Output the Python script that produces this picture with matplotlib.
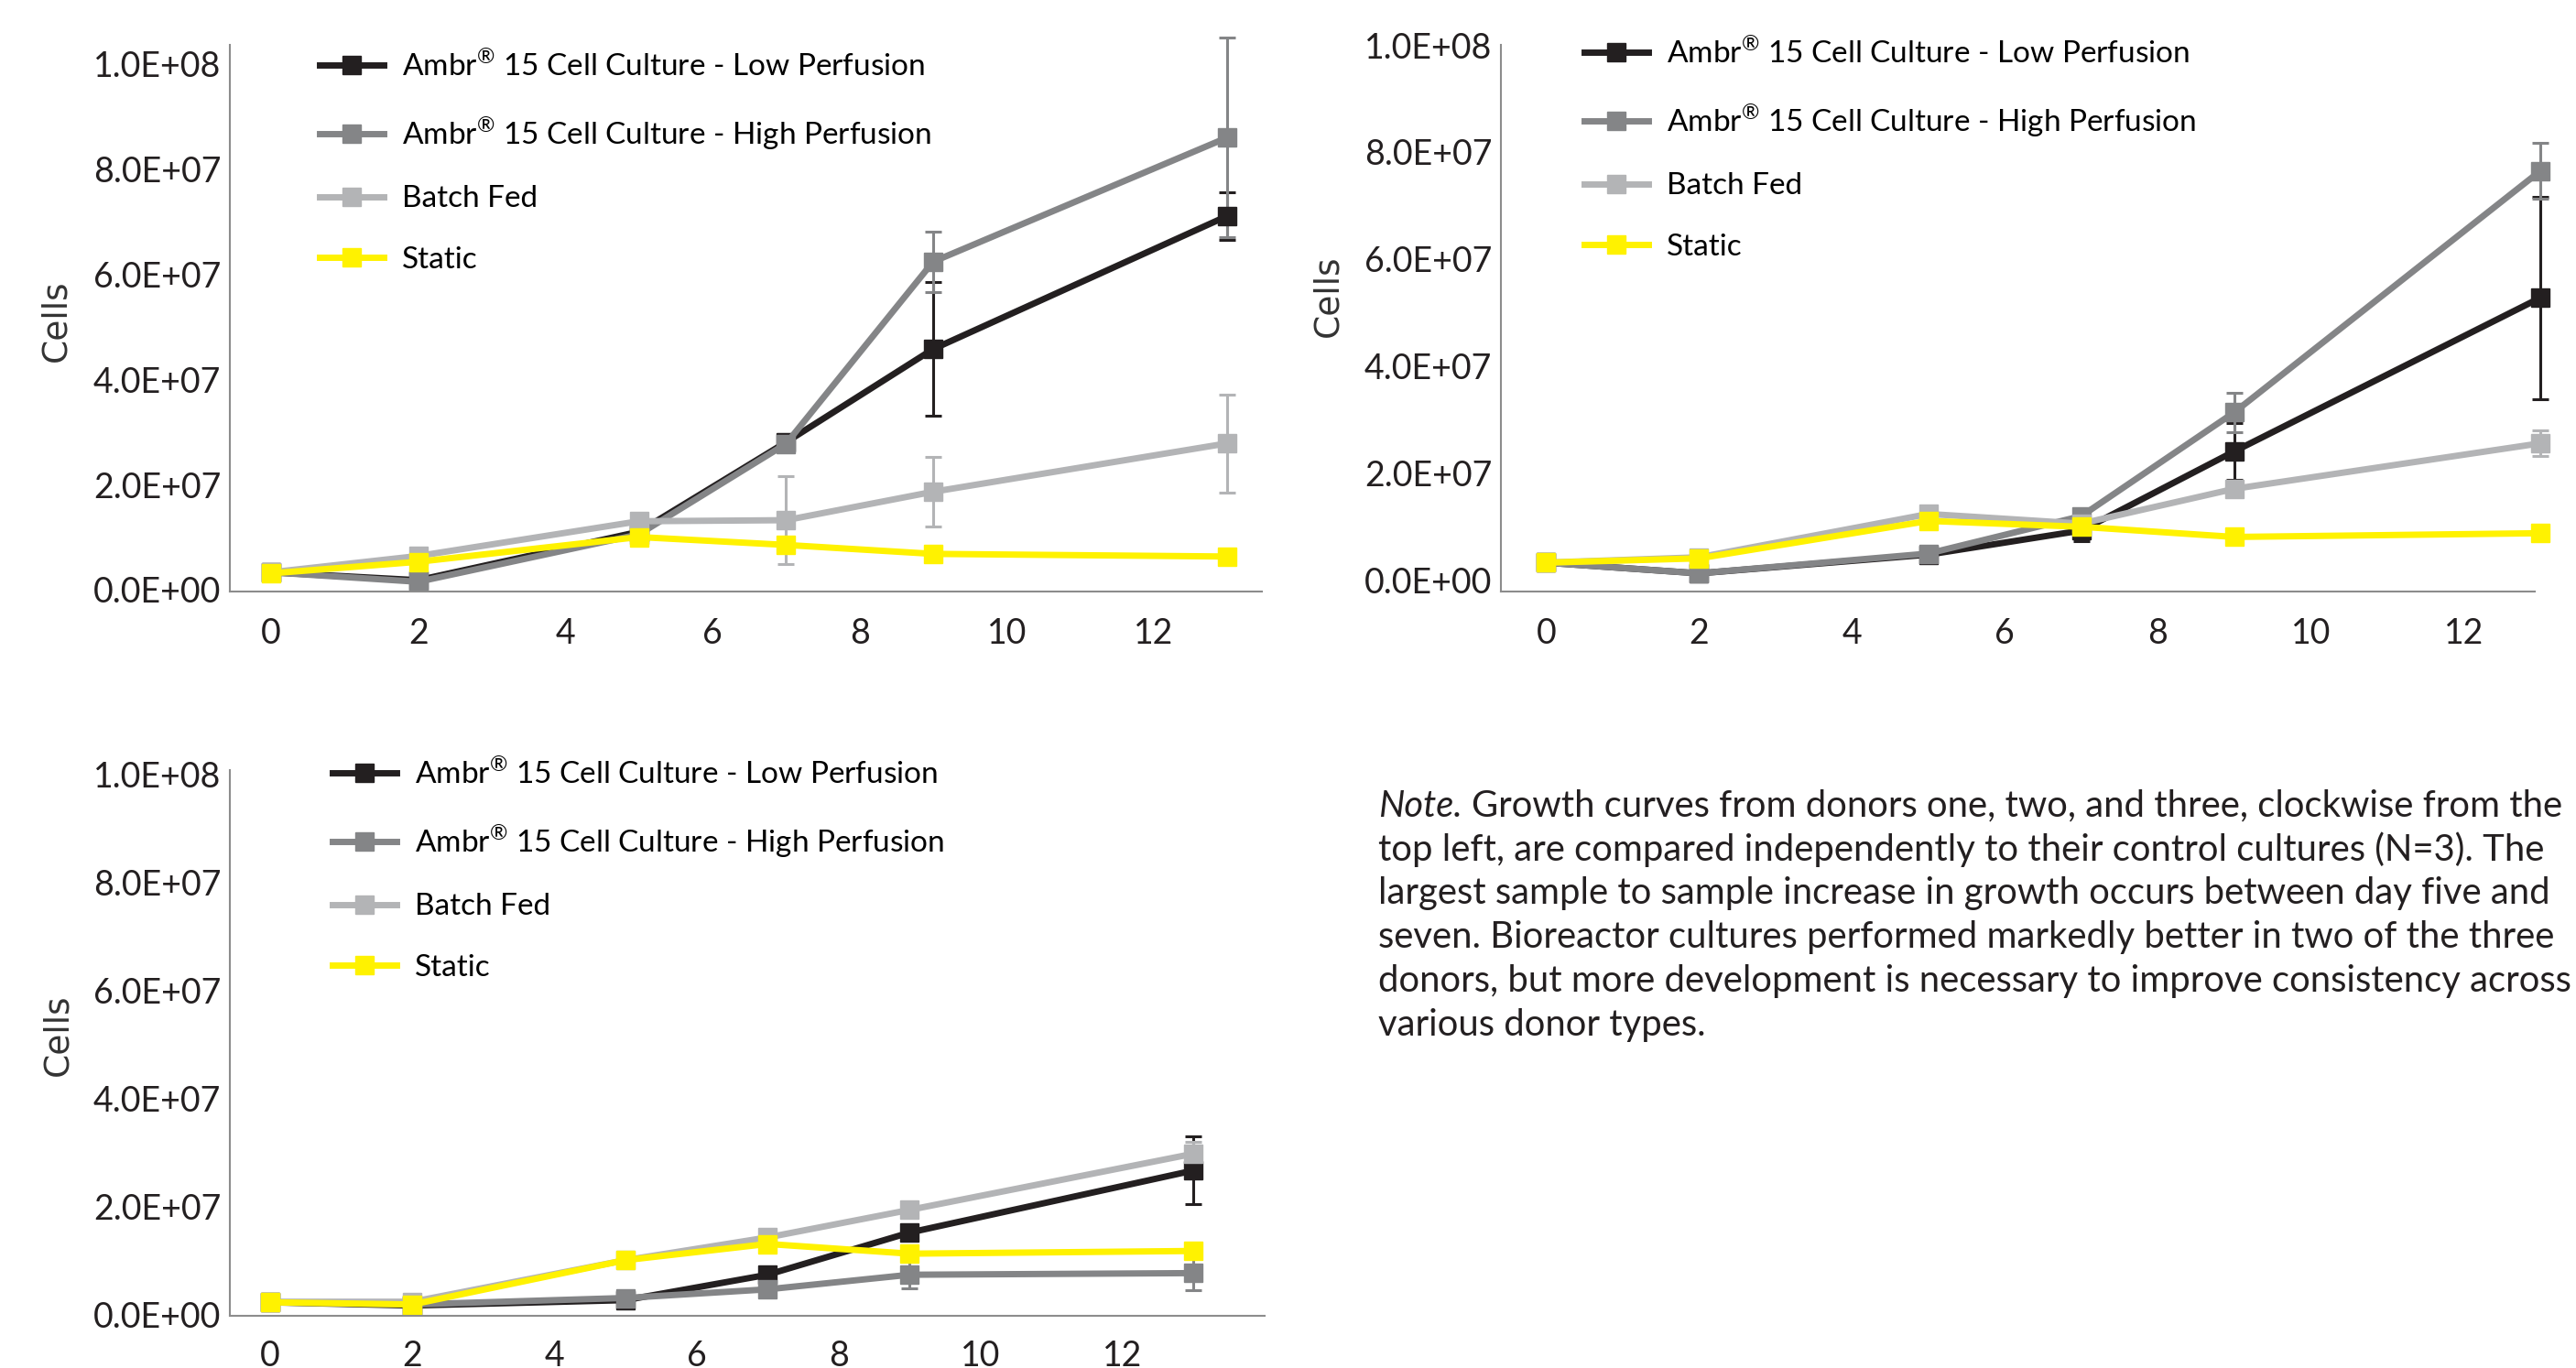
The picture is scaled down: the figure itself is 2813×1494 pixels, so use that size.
import matplotlib
matplotlib.use("Agg")
import matplotlib.pyplot as plt

plt.rcParams['font.family'] = ['Lato', 'DejaVu Sans']
plt.rcParams['mathtext.fontset'] = 'custom'
plt.rcParams['mathtext.rm'] = 'Lato'

# sampling days (x axis)
days = [0, 2, 5, 7, 9, 13]

series_names = [
    r'Ambr$^{\mathrm{®}}$ 15 Cell Culture - Low Perfusion',
    r'Ambr$^{\mathrm{®}}$ 15 Cell Culture - High Perfusion',
    'Batch Fed',
    'Static',
]
series_colors = ['#231f20', '#848587', '#b3b4b6', '#fff200']

# donor 1 (top left)
d1_low = [3.3e6, 1.8e6, 1.1e7, 2.8e7, 4.57e7, 7.1e7]
d1_low_err = [0, 0, 0, 1.5e6, 1.27e7, 4.5e6]
d1_high = [3.3e6, 1.5e6, 1.05e7, 2.77e7, 6.23e7, 8.59e7]
d1_high_err = [0, 0, 0, 1.5e6, 5.7e6, 1.9e7]
d1_batch = [3.3e6, 6.4e6, 1.3e7, 1.32e7, 1.86e7, 2.78e7]
d1_batch_err = [0, 0, 0, 8.4e6, 6.6e6, 9.3e6]
d1_static = [3.1e6, 5.3e6, 1.0e7, 8.5e6, 6.8e6, 6.3e6]
d1_static_err = [0, 0, 0, 0, 0, 0]

# donor 2 (top right)
d2_low = [3.2e6, 1.2e6, 4.7e6, 9.2e6, 2.4e7, 5.27e7]
d2_low_err = [0, 0, 0, 2.0e6, 5.3e6, 1.89e7]
d2_high = [3.2e6, 1.2e6, 4.9e6, 1.19e7, 3.13e7, 7.64e7]
d2_high_err = [0, 0, 0, 0, 3.7e6, 5.2e6]
d2_batch = [3.2e6, 4.2e6, 1.23e7, 1.05e7, 1.7e7, 2.55e7]
d2_batch_err = [0, 0, 0, 0, 0, 2.4e6]
d2_static = [3.2e6, 4.0e6, 1.1e7, 9.9e6, 8.0e6, 8.7e6]
d2_static_err = [0, 0, 0, 0, 0, 0]

# donor 3 (bottom left)
d3_low = [2.2e6, 1.6e6, 2.6e6, 7.3e6, 1.51e7, 2.66e7]
d3_low_err = [0, 0, 0, 0, 0, 6.3e6]
d3_high = [2.2e6, 1.8e6, 3.0e6, 4.6e6, 7.3e6, 7.6e6]
d3_high_err = [0, 0, 0, 0, 2.5e6, 3.2e6]
d3_batch = [2.3e6, 2.3e6, 1.0e7, 1.42e7, 1.93e7, 2.97e7]
d3_batch_err = [0, 0, 0, 0, 0, 2.2e6]
d3_static = [2.2e6, 1.8e6, 1.0e7, 1.3e7, 1.12e7, 1.17e7]
d3_static_err = [0, 0, 0, 0, 0, 0]

y_ticks = [0, 2e7, 4e7, 6e7, 8e7, 1e8]
x_ticks = [0, 2, 4, 6, 8, 10, 12]

note_lines = [
    'Growth curves from donors one, two, and three, clockwise from the',
    'top left, are compared independently to their control cultures (N=3). The',
    'largest sample to sample increase in growth occurs between day five and',
    'seven. Bioreactor cultures performed markedly better in two of the three',
    'donors, but more development is necessary to improve consistency across',
    'various donor types.',
]

W, H = 2813, 1494
fig = plt.figure(figsize=(W / 100, H / 100), dpi=100)


def px_rect(left, right, top, bottom):
    return [left / W, 1 - bottom / H, (right - left) / W, (bottom - top) / H]


def draw_panel(rect, values, errors, xlim, ylim, legend_xy, cells_xy, xpad):
    ax = fig.add_axes(rect)
    for name, color, vals, errs in zip(series_names, series_colors, values, errors):
        ax.errorbar(days, vals, yerr=errs, color=color, lw=5, marker='s', ms=14,
                    elinewidth=2.2, capsize=6.5, capthick=2.2, label=name,
                    clip_on=False)
    ax.set_xlim(*xlim)
    ax.set_ylim(*ylim)
    ax.set_xticks(x_ticks)
    ax.set_yticks(y_ticks)
    ax.set_yticklabels(['{:.1E}'.format(v) for v in y_ticks])
    for s in ['top', 'right']:
        ax.spines[s].set_visible(False)
    for s in ['left', 'bottom']:
        ax.spines[s].set_color('#8c8c8c')
        ax.spines[s].set_linewidth(1.5)
    ax.tick_params(axis='x', length=0, pad=xpad, labelsize=27, labelcolor='#231f20')
    ax.tick_params(axis='y', length=0, pad=7, labelsize=27, labelcolor='#231f20')
    handles, labels = ax.get_legend_handles_labels()
    handles = [h[0] for h in handles]
    ax.legend(handles, labels, loc='upper left', frameon=False, fontsize=24,
              bbox_to_anchor=(legend_xy[0] / W, 1 - legend_xy[1] / H),
              bbox_transform=fig.transFigure, borderpad=0, borderaxespad=0,
              handlelength=2.1, handletextpad=0.6, labelspacing=1.1)
    fig.text(cells_xy[0] / W, 1 - cells_xy[1] / H, 'Cells', rotation=90,
             ha='center', va='center', fontsize=27, color='#333333',
             family='DejaVu Sans')
    return ax


draw_panel(px_rect(251, 1378, 49, 646),
           [d1_low, d1_high, d1_batch, d1_static],
           [d1_low_err, d1_high_err, d1_batch_err, d1_static_err],
           (-0.56, 13.47), (-0.35e6, 1.035e8), (349, 54), (61, 350), 20)

draw_panel(px_rect(1639, 2768, 49, 646),
           [d2_low, d2_high, d2_batch, d2_static],
           [d2_low_err, d2_high_err, d2_batch_err, d2_static_err],
           (-0.59, 12.93), (-2.2e6, 0.993e8), (1730, 40), (1450, 323), 20)

draw_panel(px_rect(251, 1381, 841, 1437),
           [d3_low, d3_high, d3_batch, d3_static],
           [d3_low_err, d3_high_err, d3_batch_err, d3_static_err],
           (-0.57, 14.0), (-0.3e6, 1.007e8), (363, 827), (63, 1130), 19)

# note text, line by line
note_x = 1505
note_y0 = 880
line_gap = 48
t = fig.text(note_x / W, 1 - note_y0 / H, 'Note.', style='italic', fontsize=28.8,
             color='#231f20', va='center')
fig.canvas.draw()
bb = t.get_window_extent()
fig.text((bb.x1 + 10) / W, 1 - note_y0 / H, note_lines[0], fontsize=28.8,
         color='#231f20', va='center')
for i, line in enumerate(note_lines[1:], start=1):
    fig.text(note_x / W, 1 - (note_y0 + i * line_gap) / H, line, fontsize=28.8,
             color='#231f20', va='center')

fig.savefig('out.png', dpi=100)
